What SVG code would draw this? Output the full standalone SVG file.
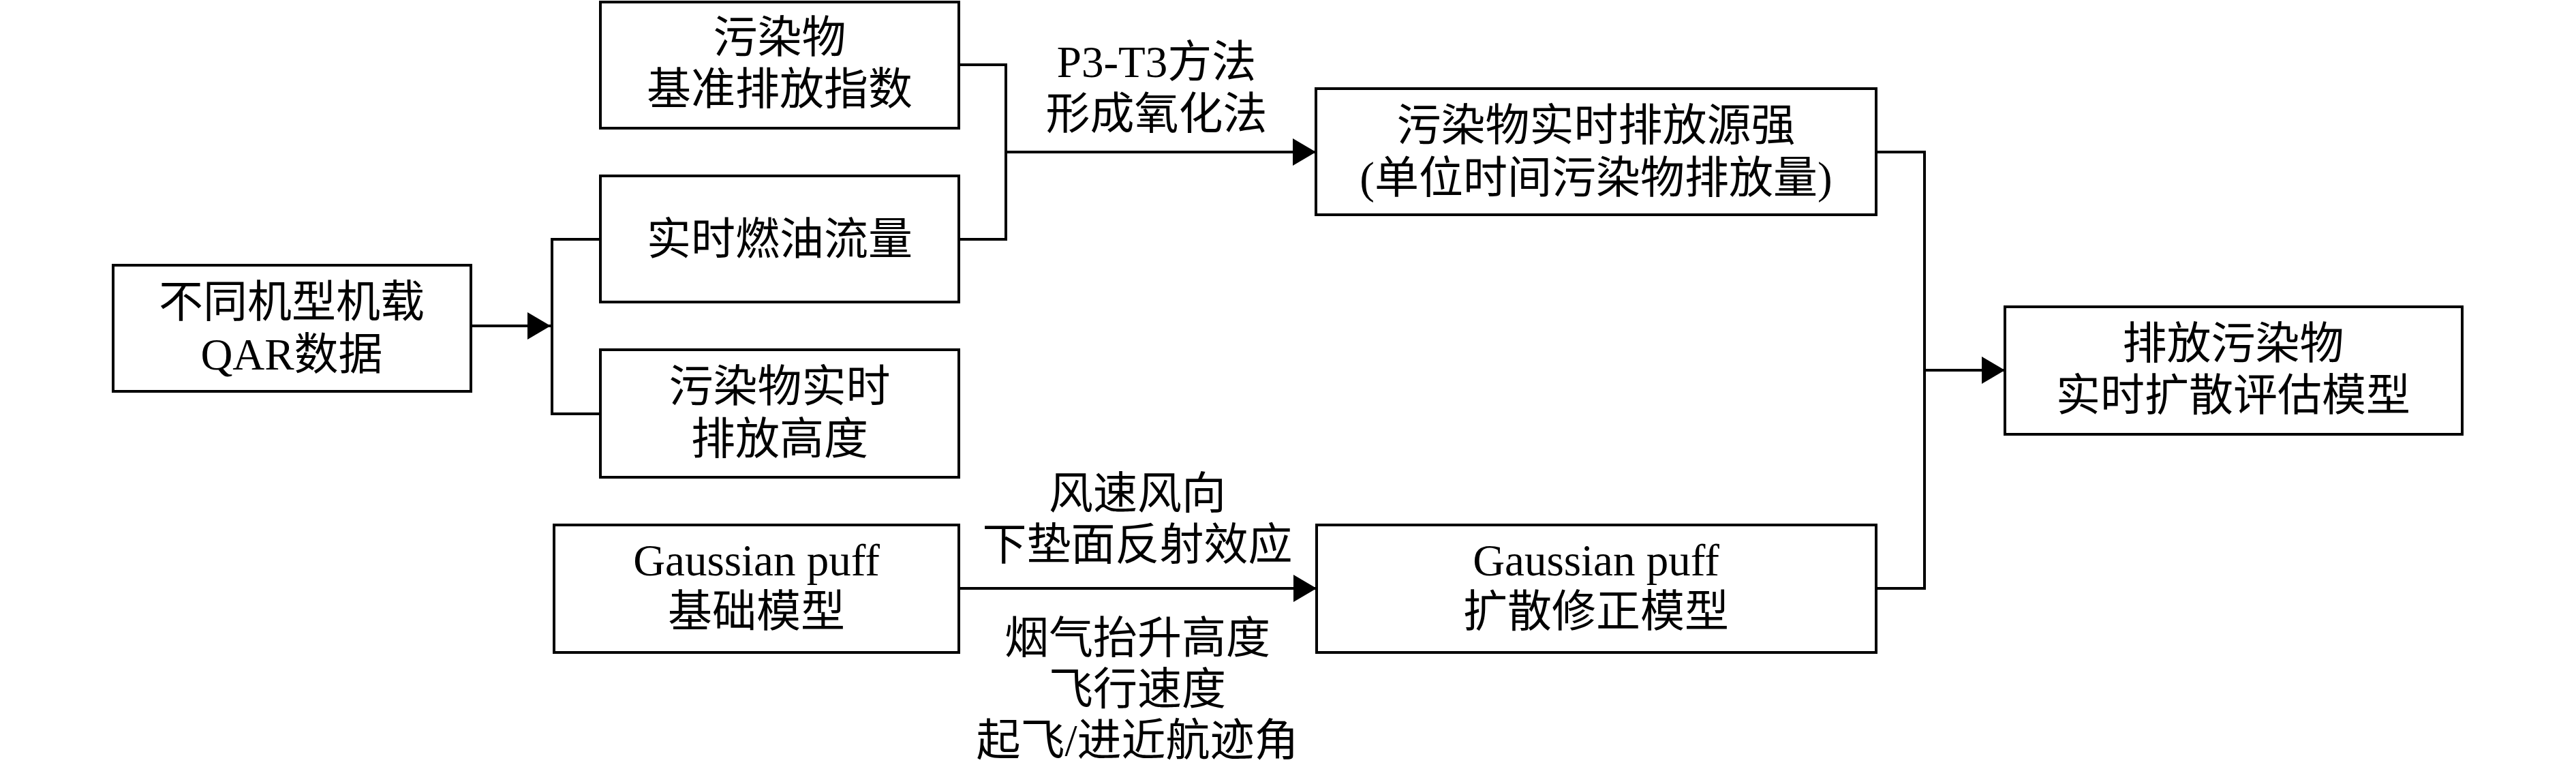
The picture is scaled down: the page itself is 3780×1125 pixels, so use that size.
<svg xmlns="http://www.w3.org/2000/svg" width="3780" height="1125" viewBox="0 0 3780 1125">
<style>
.box{fill:#fff;stroke:#000;stroke-width:4}
.t{font-family:"Liberation Serif","Noto Sans CJK SC",serif;font-size:65px;fill:#000;text-anchor:middle}
.c{fill:none;stroke:#000;stroke-width:4}
</style>
<defs>
<marker id="ah" viewBox="0 0 34 40" refX="34" refY="20" markerWidth="34" markerHeight="40" markerUnits="userSpaceOnUse" orient="auto">
<path d="M0,0 L34,20 L0,40 Z" fill="#000"/>
</marker>
</defs>
<rect width="3780" height="1125" fill="#fff"/>
<g id="connectors">
<path class="c" d="M691,478 H808" marker-end="url(#ah)"/>
<path class="c" d="M881,351 H810 V607 H881"/>
<path class="c" d="M1407,95 H1476 V351 H1407"/>
<path class="c" d="M1476,223 H1931" marker-end="url(#ah)"/>
<path class="c" d="M2753,223 H2824 V863 H2753"/>
<path class="c" d="M2824,543 H2942" marker-end="url(#ah)"/>
<path class="c" d="M1407,863 H1932" marker-end="url(#ah)"/>
</g>
<g id="n-qar">
<rect class="box" x="166" y="389" width="525" height="185"/>
<text class="t" x="428" y="465">不同机型机载</text>
<text class="t" x="428" y="542">QAR数据</text>
</g>
<g id="n-index">
<rect class="box" x="881" y="3" width="526" height="185"/>
<text class="t" x="1144" y="77">污染物</text>
<text class="t" x="1144" y="153">基准排放指数</text>
</g>
<g id="n-fuel">
<rect class="box" x="881" y="258" width="526" height="185"/>
<text class="t" x="1144" y="373">实时燃油流量</text>
</g>
<g id="n-height">
<rect class="box" x="881" y="513" width="526" height="187"/>
<text class="t" x="1144" y="589">污染物实时</text>
<text class="t" x="1144" y="666">排放高度</text>
</g>
<g id="n-source">
<rect class="box" x="1931" y="130" width="822" height="185"/>
<text class="t" x="2342" y="206">污染物实时排放源强</text>
<text class="t" x="2342" y="283">(单位时间污染物排放量)</text>
</g>
<g id="n-final">
<rect class="box" x="2942" y="450" width="671" height="187"/>
<text class="t" x="3277" y="526">排放污染物</text>
<text class="t" x="3277" y="602">实时扩散评估模型</text>
</g>
<g id="n-gbase">
<rect class="box" x="813" y="770" width="594" height="187"/>
<text class="t" x="1110" y="844">Gaussian puff</text>
<text class="t" x="1110" y="919">基础模型</text>
</g>
<g id="n-gcorr">
<rect class="box" x="1932" y="770" width="821" height="187"/>
<text class="t" x="2342" y="844">Gaussian puff</text>
<text class="t" x="2342" y="919">扩散修正模型</text>
</g>
<g id="labels">
<text class="t" x="1697" y="113">P3-T3方法</text>
<text class="t" x="1697" y="189">形成氧化法</text>
<text class="t" x="1669" y="746">风速风向</text>
<text class="t" x="1669" y="821">下垫面反射效应</text>
<text class="t" x="1669" y="958">烟气抬升高度</text>
<text class="t" x="1669" y="1033">飞行速度</text>
<text class="t" x="1669" y="1108">起飞/进近航迹角</text>
</g>
</svg>
